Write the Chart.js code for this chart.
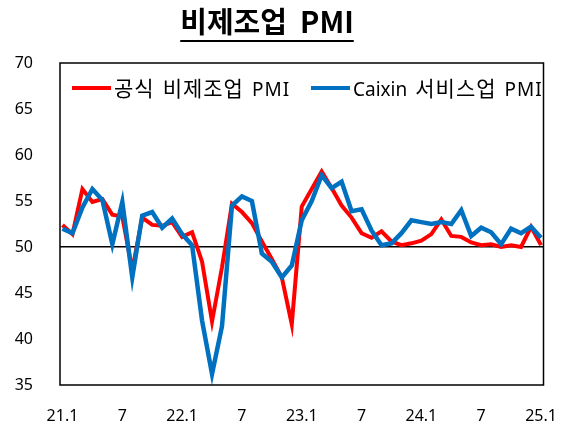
<!DOCTYPE html>
<html>
<head>
<meta charset="utf-8">
<script src="https://cdn.jsdelivr.net/npm/chart.js@4"></script>
<style>
  html, body { margin: 0; padding: 0; background: #fff; }
  canvas { display: block; }
</style>
</head>
<body>
<canvas id="chart" width="571" height="427"></canvas>
<script>
// monthly, 2021.1 ~ 2025.1
const titleText = '비제조업  PMI';
const tickLabels = ['21.1', '7', '22.1', '7', '23.1', '7', '24.1', '7', '25.1'];
const tickStep = 6;

const officialLabel = '공식 비제조업 PMI';
const officialValues = [
  52.4, 51.4, 56.3, 54.9, 55.2, 53.5, 53.3, 47.5, 53.2, 52.4, 52.3, 52.7,
  51.1, 51.6, 48.4, 41.9, 47.8, 54.7, 53.8, 52.6, 50.6, 48.7, 46.7, 41.6,
  54.4, 56.3, 58.2, 56.4, 54.5, 53.2, 51.5, 51.0, 51.7, 50.6, 50.2, 50.4,
  50.7, 51.4, 53.0, 51.2, 51.1, 50.5, 50.2, 50.3, 50.0, 50.2, 50.0, 52.2,
  50.2
];

const caixinLabel = 'Caixin 서비스업 PMI';
const caixinValues = [
  52.0, 51.5, 54.3, 56.3, 55.1, 50.3, 54.9, 46.7, 53.4, 53.8, 52.1, 53.1,
  51.4, 50.2, 42.0, 36.2, 41.4, 54.5, 55.5, 55.0, 49.3, 48.4, 46.7, 48.0,
  52.9, 55.0, 57.8, 56.4, 57.1, 53.9, 54.1, 51.8, 50.2, 50.4, 51.5, 52.9,
  52.7, 52.5, 52.7, 52.5, 54.0, 51.2, 52.1, 51.6, 50.3, 52.0, 51.5, 52.2,
  51.0
];

const RED = '#FF0000';
const BLUE = '#0070C0';
const NUM_FONT = '"Noto Sans", "Noto Sans CJK KR", sans-serif';
const KR_FONT = '"Noto Sans CJK KR", "Noto Sans", sans-serif';

function toPoints(arr){
  return arr.map((v, i) => ({ x: i, y: v }));
}

// draw a legend label word by word: hangul wider, "PMI" smaller
function drawLabel(ctx, label, x, y){
  label.split(' ').forEach(word => {
    if(/[가-힣]/.test(word)){
      ctx.font = '21px ' + KR_FONT;
      ctx.letterSpacing = '1px';
    } else if(word === 'PMI'){
      ctx.font = '19px ' + NUM_FONT;
      ctx.letterSpacing = '1px';
    } else {
      ctx.font = '19px ' + NUM_FONT;
      ctx.letterSpacing = '0px';
    }
    ctx.fillText(word, x, y);
    x += ctx.measureText(word).width + 8;
  });
  ctx.letterSpacing = '0px';
}

// title, box round the plot, legend inside the plot
const decor = {
  id: 'decor',
  afterDraw(chart){
    const ctx = chart.ctx;
    const a = chart.chartArea;
    ctx.save();

    ctx.strokeStyle = '#000';
    ctx.lineWidth = 1.5;
    ctx.strokeRect(a.left, a.top, a.right - a.left, a.bottom - a.top);

    // title with underline
    ctx.fillStyle = '#000';
    ctx.font = 'bold 29px ' + KR_FONT;
    ctx.textAlign = 'center';
    ctx.textBaseline = 'alphabetic';
    ctx.fillText(titleText, 267, 33);
    const tw = ctx.measureText(titleText).width;
    ctx.fillRect(267 - tw / 2, 40, tw, 2);

    // legend
    const items = [
      { label: officialLabel, color: RED, x: 72 },
      { label: caixinLabel, color: BLUE, x: 311 }
    ];
    ctx.textAlign = 'left';
    items.forEach(it => {
      ctx.strokeStyle = it.color;
      ctx.lineWidth = 4;
      ctx.beginPath();
      ctx.moveTo(it.x, 88);
      ctx.lineTo(it.x + 39, 88);
      ctx.stroke();
      ctx.fillStyle = '#000';
      drawLabel(ctx, it.label, it.x + 42, 96);
    });

    ctx.restore();
  }
};

new Chart(document.getElementById('chart'), {
  type: 'line',
  data: {
    datasets: [
      {
        label: officialLabel,
        data: toPoints(officialValues),
        borderColor: RED,
        backgroundColor: RED,
        borderWidth: 4,
        pointRadius: 0,
        tension: 0,
        order: 1
      },
      {
        label: caixinLabel,
        data: toPoints(caixinValues),
        borderColor: BLUE,
        backgroundColor: BLUE,
        borderWidth: 4.5,
        pointRadius: 0,
        tension: 0,
        order: 0
      }
    ]
  },
  options: {
    responsive: false,
    animation: false,
    layout: { padding: { top: 63, right: 23, left: 0, bottom: 0 } },
    plugins: {
      legend: { display: false },
      tooltip: { enabled: false }
    },
    scales: {
      x: {
        type: 'linear',
        min: -0.25,
        max: 48.25,
        afterBuildTicks: s => { s.ticks = tickLabels.map((_, k) => ({ value: k * tickStep })); },
        afterFit: s => { s.height = 42; },
        grid: { display: false },
        border: { display: false },
        ticks: {
          autoSkip: false,
          maxRotation: 0,
          padding: 14,
          color: '#000',
          font: { family: NUM_FONT, size: 16 },
          callback: v => tickLabels[Math.round(v / tickStep)]
        }
      },
      y: {
        min: 35,
        max: 70,
        afterFit: s => { s.width = 60; },
        border: { display: false },
        grid: {
          drawTicks: false,
          lineWidth: 1.5,
          color: c => (c.tick && c.tick.value === 50) ? '#000' : 'rgba(0,0,0,0)'
        },
        ticks: {
          stepSize: 5,
          padding: 27,
          color: '#000',
          font: { family: NUM_FONT, size: 16 }
        }
      }
    }
  },
  plugins: [decor]
});
</script>
</body>
</html>
